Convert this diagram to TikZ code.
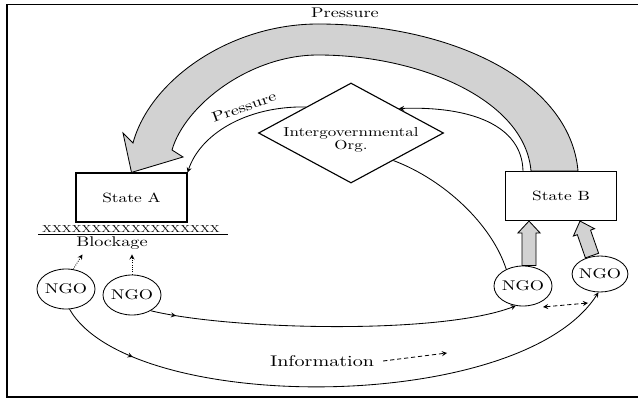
\documentclass[tikz,border=0pt]{standalone}
\usepackage{fontspec}
\setmainfont{lmroman10-regular.otf}[FakeStretch=1.3]
\usetikzlibrary{shapes.geometric,calc,decorations.markings}

\newcommand{\fatarrow}[2]{%
  \coordinate (fahead) at ($(#2)!0.3cm!(#1)$);
  \filldraw[fat] ($(#1)!0.175cm!90:(#2)$) -- ($(fahead)!0.175cm!90:(#2)$) -- ($(fahead)!0.28cm!90:(#2)$) -- (#2)
    -- ($(fahead)!0.28cm!-90:(#2)$) -- ($(fahead)!0.175cm!-90:(#2)$) -- ($(#1)!0.175cm!-90:(#2)$) -- cycle;}

\begin{document}
\begin{tikzpicture}[x=0.025cm, y=-0.025cm, semithick, >=stealth,
    font=\fontsize{10}{12}\selectfont,
    state/.style={draw, thick, minimum width=2.775cm, minimum height=1.225cm, font=\fontsize{9.5}{11}\selectfont},
    ngo/.style={ellipse, draw, inner xsep=-1pt, inner ysep=0pt, minimum width=1.45cm, minimum height=1cm},
    fat/.style={draw, fill=gray!35, semithick},
    flowmark/.style={postaction={decorate}, decoration={markings, mark=at position #1 with {\arrow{stealth}}}}]
        \useasboundingbox (0,0) rectangle (638,400);
        \draw[line width=1.4pt] (638,4.5) -- (7,4.5) -- (7,397) -- (638,397);

        \node[state] (sa) at (131.5,197.5) {State A};
        \node[state] (sb) at (561,196) {State B};
        \node[diamond, draw, thick, minimum width=4.625cm, minimum height=2.5cm, inner sep=0pt] (igo) at (351,133) {};
        \node[align=center, inner sep=0pt, font=\fontsize{9.3}{9}\selectfont] (igotext) at (351,140) {Intergovernmental\\Org.};

        \node (ptop) at (345,13) {Pressure};
        \node[rotate=20, inner sep=1pt] (pmid) at (244,107) {Pressure};
        \node[font=\fontsize{7.2}{8}\selectfont, inner sep=1pt] (xx) at (131,229) {XXXXXXXXXXXXXXXXXX};
        \draw ($(xx.south west)+(-2,0)$) -- ($(xx.south east)+(6,0)$);
        \node (block) at (112,243) {Blockage};

        \node[ngo] (ngo1) at (66,289) {NGO};
        \node[ngo] (ngo2) at (132,295) {NGO};
        \node[ngo] (ngo3) at (523,286) {NGO};
        \node[ngo, minimum width=1.3cm, minimum height=0.9cm] (ngo4) at (600,274) {NGO};
        \node[font=\fontsize{11}{13}\selectfont] (info) at (322,361) {Information};
        \coordinate (infoend) at (447,353);

        % big pressure arrow from B over to A
        \filldraw[fat] ([xshift=0.425cm]sb.north) .. controls (570,80) and (450,24) .. (318,24)
            .. controls (230,24) and (150,80) .. (133,143) -- (123,133) -- (sa.north) -- (183,157) -- (172,150)
            .. controls (185,105) and (250,55) .. (318,55) .. controls (420,55) and (525,100) .. ([xshift=-0.75cm]sb.north) -- cycle;

        \coordinate (n3base) at ([xshift=0.15cm]ngo3.north);
        \coordinate (n3tip) at ([xshift=-0.8cm]sb.south);
        \fatarrow{n3base}{n3tip}
        \coordinate (n4base) at ([xshift=-0.2cm]ngo4.north);
        \coordinate (n4tip) at ([xshift=0.475cm]sb.south);
        \fatarrow{n4base}{n4tip}

        \draw[->] ([xshift=-0.95cm]sb.north) .. controls (522,125) and (470,106) .. (igo.27);
        \draw[->] (igo.150) .. controls (245,106) and (200,135) .. (sa.north east);
        \draw (igo.-33) .. controls (445,180) and (492,225) .. (ngo3.135);

        \draw[densely dotted,->] (ngo1.70) -- ([xshift=0.28cm]block.south west);
        \draw[densely dotted,->] (ngo2.north) -- (ngo2.north |- block.south);

        \draw[->, flowmark=0.07] (ngo2.-40) .. controls (230,330) and (440,335) .. (ngo3.-110);
        \draw[->, flowmark=0.14] (ngo1.-80) .. controls (130,415) and (520,415) .. (ngo4.-95);
        \draw[densely dashed,<->] ([shift={(20,21)}]ngo3.center) -- ([shift={(-12,29)}]ngo4.center);
        \draw[densely dashed,->] ([xshift=0.1cm]info.east) -- (infoend);

    \end{tikzpicture}
\end{document}
